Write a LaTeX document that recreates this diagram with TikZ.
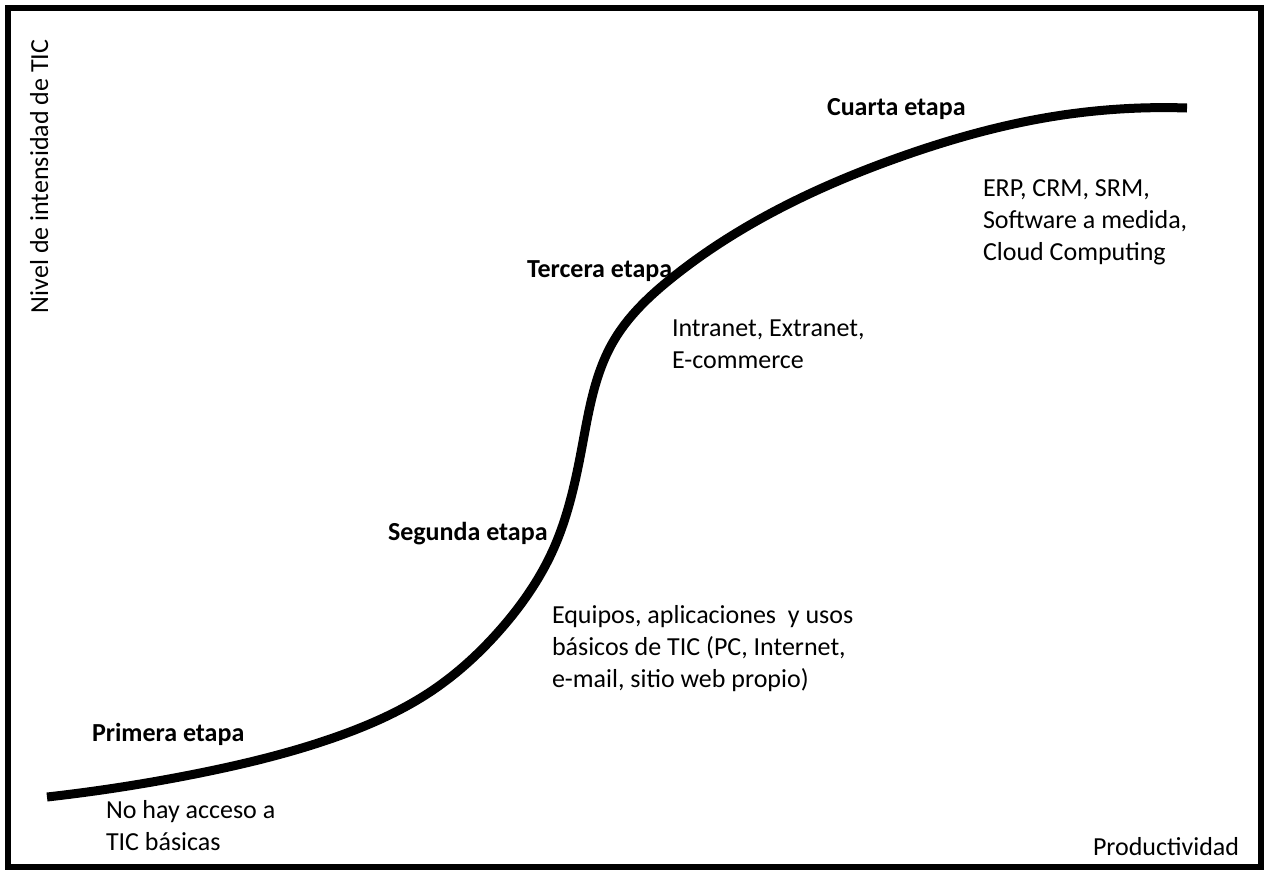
\documentclass[tikz,border=0pt]{standalone}
\usepackage{fontspec}
\setmainfont{Carlito}
\usetikzlibrary{hobby}
\begin{document}
\begin{tikzpicture}[x=1pt,y=-1pt,
  lbl/.style={inner sep=0pt, outer sep=0pt, anchor=base west, align=left, font=\fontsize{26}{32}\selectfont},
  stage/.style={lbl, font=\fontsize{26}{32}\selectfont\bfseries},
  curve/.style={line width=9pt, line cap=butt, line join=round}]
\useasboundingbox (0,0) rectangle (1266,871);
\draw[line width=6pt] (8,7.5) rectangle (1261,867);
% curve
\coordinate (p0) at (47,797);
\coordinate (p1) at (200,773);
\coordinate (p2) at (333,738);
\coordinate (p3) at (433,690);
\coordinate (p4) at (500,630);
\coordinate (p5) at (553,550);
\coordinate (p6) at (582,447);
\coordinate (p7) at (613,342);
\coordinate (p8) at (673,277);
\coordinate (p9) at (773,212);
\coordinate (p10) at (900,157);
\coordinate (p11) at (1050,117);
\coordinate (p12) at (1187,108);
\draw[curve, use Hobby shortcut] (p0) .. (p1) .. (p2) .. (p3) .. (p4) .. (p5) .. (p6) .. (p7) .. (p8) .. (p9) .. (p10) .. (p11) .. (p12);
% axis labels
\node[lbl, rotate=90] (yl) at (48,313) {Nivel de intensidad de TIC};
\node[lbl] (xl) at (1093,855) {Productividad};
% stages
\node[stage] (s1) at (92,741) {Primera etapa};
\node[stage] (s2) at (388,540) {Segunda etapa};
\node[stage] (s3) at (527,277) {Tercera etapa};
\node[stage] (s4) at (827,115) {Cuarta etapa};
% descriptions (base = last line)
\node[lbl] (d1) at (106,850) {No hay acceso a\\TIC básicas};
\node[lbl] (d2) at (552,687) {Equipos, aplicaciones\ \ y usos\\básicos de TIC (PC, Internet,\\e-mail, sitio web propio)};
\node[lbl] (d3) at (672,368) {Intranet, Extranet,\\E-commerce};
\node[lbl] (d4) at (983,260) {ERP, CRM, SRM,\\Software a medida,\\Cloud Computing};
\end{tikzpicture}
\end{document}
